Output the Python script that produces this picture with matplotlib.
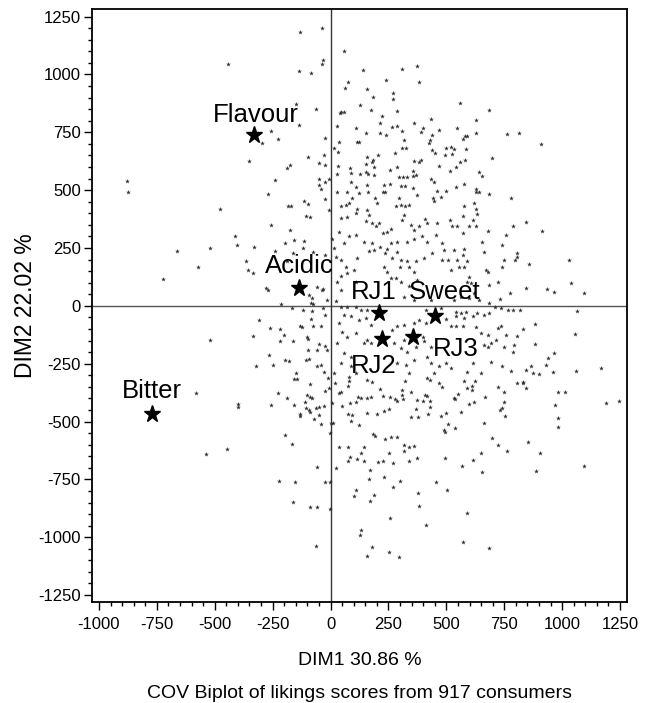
import numpy as np
import matplotlib
matplotlib.use("Agg")
import matplotlib.pyplot as plt
from matplotlib.ticker import MultipleLocator

plt.rcParams['font.family'] = ['Liberation Sans', 'DejaVu Sans']
plt.rcParams['axes.unicode_minus'] = False

# attribute / product positions (stars)
star_names = ['Flavour', 'Acidic', 'RJ1', 'Sweet', 'RJ2', 'RJ3', 'Bitter']
star_x = [-329, -135, 209, 450, 221, 356, -770]
star_y = [737, 79, -32, -42, -143, -135, -467]

# consumer points, (dim1, dim2)
consumers = [
    # upper centre
    (-133, 1184), (-39, 1202), (58, 1101), (-33, 1063), (-39, 1045), (-137, 1015), (-84, 1008), (141, 1019),
    (310, 1024), (375, 1037), (75, 969), (62, 941), (241, 976), (382, 969), (159, 937), (271, 920),
    (268, 894), (185, 903), (-148, 872), (-61, 851), (127, 868), (174, 848), (288, 843), (46, 838),
    (58, 838), (40, 832), (222, 820), (-135, 782), (-257, 756), (-229, 722), (-294, 704), (26, 777),
    (111, 769), (213, 791), (264, 773), (288, 779), (359, 790), (151, 747), (212, 747), (241, 738),
    (308, 756), (389, 751), (-25, 725), (36, 709), (114, 708), (124, 708), (317, 717), (308, 683),
    (327, 683), (13, 683), (33, 667), (278, 660), (-30, 650), (-98, 643), (159, 643), (206, 654),
    (185, 631), (179, 621), (359, 628), (382, 621), (-352, 626), (-49, 617), (-176, 608), (-190, 597),
    (-22, 607), (33, 603), (151, 613), (187, 601), (82, 597), (288, 601), (256, 587), (355, 581),
    (29, 570), (88, 574), (125, 570), (153, 578), (161, 568), (187, 564), (294, 555), (311, 557),
    (332, 557), (356, 560), (371, 567), (-49, 549), (-7, 549), (-238, 544), (-52, 523), (-22, 535),
    (-43, 505), (87, 536), (159, 523), (109, 515), (231, 523), (256, 528), (306, 519), (320, 519),
    (358, 510), (29, 492), (72, 494), (122, 487), (163, 490), (226, 492), (234, 490), (-271, 483),
    (91, 466), (190, 466), (295, 466), (375, 480), (-25, 461), (-7, 415),
    # upper right
    (558, 877), (686, 846), (433, 807), (630, 803), (398, 769), (470, 761), (545, 769), (628, 747),
    (760, 743), (812, 747), (907, 699), (437, 738), (429, 717), (423, 704), (570, 722), (581, 734),
    (587, 734), (440, 673), (453, 660), (500, 682), (519, 686), (533, 678), (494, 652), (523, 656),
    (584, 678), (392, 630), (696, 639), (581, 630), (559, 621), (467, 606), (542, 600), (515, 582),
    (639, 578), (654, 561), (433, 548), (447, 535), (578, 526), (541, 515), (626, 505), (630, 492),
    (640, 492), (685, 483), (458, 496), (497, 496), (444, 466), (476, 470), (777, 466),
    # middle left
    (-115, 454), (-96, 440), (-185, 430), (-169, 432), (-105, 389), (-89, 386), (-258, 349), (-177, 327),
    (-198, 270), (-159, 283), (-115, 281), (-332, 254), (-241, 235), (-161, 228), (-366, 193), (-356, 153),
    (-337, 143), (-277, 79), (-269, 69), (-58, 82), (-39, 69), (-32, 72), (-94, 48), (-79, 33),
    (-86, 12), (-75, 7), (-215, 7), (-166, -10), (-120, -20), (-81, -22), (-32, -10), (-14, 25),
    (-22, -39), (-85, -56), (-310, -62), (-218, -101), (-202, -125), (-262, -94), (-134, -85), (-125, -92),
    (-74, -89), (-43, -85), (-337, -130), (-163, -154), (-101, -135), (-96, -143), (-49, -164), (-23, -173),
    (-16, -190), (-96, -190), (-57, -190), (-265, -211), (-196, -234), (-180, -238), (-107, -234), (-91, -231),
    (-321, -258), (-247, -254), (-58, -258), (-43, -255), (-148, -291), (-29, -284), (-12, -313),
    (-118, 250), (-75, 231), (-22, 220), (-187, 193), (-219, -154),
    # middle centre
    (43, 430), (65, 437), (79, 444), (43, 379), (72, 386), (108, 401), (115, 418), (159, 415),
    (166, 394), (202, 444), (180, 358), (151, 365), (195, 346), (209, 358), (228, 317), (245, 321),
    (263, 332), (281, 430), (303, 437), (320, 430), (339, 437), (317, 394), (310, 372), (346, 350),
    (360, 329), (382, 343), (36, 321), (79, 300), (108, 307), (58, 271), (7, 288), (17, 250),
    (144, 278), (166, 235), (187, 242), (180, 271), (213, 256), (234, 228), (245, 245), (260, 271),
    (288, 278), (329, 275), (360, 288), (288, 232), (267, 207), (303, 199), (332, 192), (368, 192),
    (22, 213), (43, 199), (65, 170), (101, 156), (72, 141), (115, 206), (108, 105), (29, 105),
    (43, 127), (43, 69), (231, 170), (245, 148), (260, 120), (281, 120), (300, 170), (339, 170),
    (360, 148), (303, 105), (339, 84), (375, 112), (317, 40), (360, 26), (22, 19), (43, -3),
    (72, -3), (108, -3), (130, -17), (159, -17), (36, -75), (58, -39), (87, -46), (122, -61),
    (151, -53), (173, -82), (267, -104), (288, -89), (317, -82), (360, -75), (382, -61), (51, -111),
    (72, -133), (108, -118), (144, -161), (173, -161), (159, -147), (274, -161), (303, -183), (332, -198),
    (368, -176), (317, -147), (29, -161), (58, -205), (43, -248), (87, -219), (87, -262), (108, -291),
    (14, -291), (79, -306), (288, -248), (324, -255), (360, -234), (339, -291),
    # middle right
    (447, 454), (577, 432), (620, 444), (627, 418), (631, 397), (574, 389), (407, 375), (418, 358),
    (461, 358), (516, 372), (526, 343), (548, 343), (574, 317), (598, 343), (627, 346), (613, 372),
    (680, 324), (757, 307), (786, 343), (843, 361), (911, 324), (742, 264), (656, 278), (663, 232),
    (397, 300), (418, 278), (454, 307), (483, 271), (490, 242), (534, 242), (570, 221), (577, 245),
    (548, 199), (591, 192), (404, 206), (440, 228), (483, 199), (505, 196), (519, 156), (555, 170),
    (577, 170), (747, 199), (796, 199), (807, 228), (807, 213), (855, 180), (742, 170), (670, 156),
    (678, 148), (721, 105), (685, 91), (598, 124), (591, 105), (606, 98), (620, 55), (1031, 196),
    (1038, 98), (1093, 55), (934, 72), (963, 61), (843, 77), (775, 55), (732, 29), (433, 26),
    (533, 26), (562, 40), (598, 33), (641, 26), (685, 12), (709, -6), (735, -10), (767, -20),
    (786, -17), (817, -17), (1064, -23), (411, -17), (476, -10), (541, -25), (562, -32), (584, -25),
    (613, -46), (634, -32), (663, -39), (685, -32), (541, -46), (577, -53), (411, -75), (497, -58),
    (519, -89), (541, -89), (570, -89), (627, -92), (649, -118), (678, -125), (721, -96), (735, -86),
    (757, -125), (807, -130), (829, -101), (882, -79), (1057, -122), (714, -147), (692, -161), (663, -168),
    (678, -176), (401, -133), (404, -154), (433, -176), (418, -219), (750, -176), (793, -168), (786, -198),
    (882, -164), (937, -226), (963, -205), (468, -262), (519, -270), (497, -248), (433, -248), (616, -248),
    (692, -241), (742, -262), (781, -281), (843, -277), (865, -262), (872, -291), (901, -294), (930, -255),
    (959, -284), (1060, -280), (1168, -270), (591, -284), (649, -291), (447, -291), (418, -313),
    # lower centre
    (-89, -339), (-226, -378), (-190, -399), (-258, -430), (-157, -430), (-101, -385), (-87, -392), (-79, -399),
    (-111, -414), (-108, -442), (-94, -450), (-89, -460), (-61, -442), (-48, -438), (-29, -433), (-134, -468),
    (-130, -476), (-72, -490), (-48, -471), (-40, -512), (-22, -368), (-7, -356), (-198, -559), (-166, -598),
    (-58, -698), (-222, -758), (-153, -763), (-23, -763), (-163, -849), (-87, -868), (-58, -868), (-62, -1039),
    (-3, -551), (-1, -760), (-3, -879), (19, -334), (36, -378), (43, -371), (75, -346), (79, -323),
    (7, -421), (3, -508), (12, -505), (48, -433), (75, -468), (91, -471), (89, -496), (82, -421),
    (112, -414), (120, -392), (130, -399), (156, -399), (173, -395), (159, -320), (180, -327), (213, -360),
    (225, -388), (121, -516), (156, -461), (202, -467), (231, -453), (252, -447), (257, -392), (277, -404),
    (288, -411), (310, -385), (313, -404), (310, -363), (349, -371), (323, -324), (372, -407), (368, -447),
    (346, -482), (379, -482), (185, -555), (193, -561), (237, -574), (261, -568), (285, -568), (319, -602),
    (339, -610), (360, -604), (317, -628), (375, -659), (340, -672), (36, -611), (75, -611), (144, -611),
    (130, -637), (84, -652), (75, -672), (115, -663), (144, -669), (205, -676), (228, -672), (251, -637),
    (268, -681), (25, -702), (170, -709), (164, -750), (231, -741), (300, -758), (271, -784), (112, -796),
    (101, -823), (186, -819), (172, -845), (378, -811), (382, -863), (258, -919), (131, -970), (127, -992),
    (179, -1044), (159, -1083), (254, -1065), (294, -1087),
    # lower right
    (430, -320), (468, -332), (483, -352), (577, -323), (610, -346), (609, -363), (624, -323), (587, -356),
    (724, -352), (747, -373), (807, -334), (829, -327), (831, -334), (843, -356), (980, -373), (1012, -373),
    (407, -385), (415, -388), (401, -411), (430, -411), (430, -438), (421, -468), (476, -476), (500, -464),
    (531, -399), (538, -404), (552, -380), (666, -395), (598, -425), (621, -417), (562, -460), (750, -417),
    (742, -443), (732, -451), (755, -477), (970, -430), (1189, -418), (1247, -412), (983, -486), (982, -525),
    (505, -510), (490, -536), (494, -544), (538, -529), (662, -508), (695, -572), (722, -602), (761, -628),
    (853, -588), (903, -637), (650, -637), (613, -668), (493, -659), (568, -693), (652, -719), (888, -715),
    (1096, -693), (455, -763), (502, -794), (591, -897), (411, -948), (570, -1022), (682, -1048),
    # far left
    (-442, 1045), (-879, 538), (-875, 492), (-476, 418), (-665, 237), (-522, 250), (-411, 300), (-404, 261),
    (-574, 167), (-725, 115), (-519, -147), (-581, -378), (-401, -424), (-401, -438), (-156, -317), (-144, -317),
    (-536, -642), (-447, -620),
]
cons = np.array(consumers, dtype=float)

fig = plt.figure(figsize=(6.53, 7.03), dpi=100)
ax = fig.add_axes([92 / 653, 101 / 703, 535 / 653, 593 / 703])

ax.axhline(0, color='#555555', lw=1.0, zorder=1)
ax.axvline(0, color='#333333', lw=1.0, zorder=1)

ax.scatter(cons[:, 0], cons[:, 1], marker='*', s=13, c='#2e2e2e', linewidths=0, zorder=2)
ax.plot(star_x, star_y, linestyle='none', marker='*', ms=12.5, color='black', zorder=3)

# label offsets in points (dx, dy, ha)
offsets = {
    'Flavour': (1, 9.5, 'center'),
    'Acidic': (0, 10.5, 'center'),
    'RJ1': (-4, 10, 'center'),
    'Sweet': (7, 12, 'center'),
    'RJ2': (-6, -24.5, 'center'),
    'RJ3': (14, -13.5, 'left'),
    'Bitter': (0, 11.5, 'center'),
}
for name, x, y in zip(star_names, star_x, star_y):
    dx, dy, ha = offsets[name]
    ax.annotate(name, (x, y), xytext=(dx, dy), textcoords='offset points',
                ha=ha, va='baseline', fontsize=18.5, zorder=4)

ax.set_xlim(-1030, 1280)
ax.set_ylim(-1280, 1283)
ax.xaxis.set_major_locator(MultipleLocator(250))
ax.yaxis.set_major_locator(MultipleLocator(250))
ax.xaxis.set_minor_locator(MultipleLocator(50))
ax.yaxis.set_minor_locator(MultipleLocator(50))
ax.tick_params(which='major', length=5.5, width=1, direction='out', labelsize=12)
ax.tick_params(axis='x', which='major', pad=5)
ax.tick_params(axis='y', which='major', pad=2.5)
ax.tick_params(which='minor', length=3, width=1, direction='out')
for sp in ax.spines.values():
    sp.set_linewidth(1.3)

ax.set_xlabel('DIM1 30.86 %', fontsize=14, labelpad=15)
ax.set_ylabel('DIM2 22.02 %', fontsize=16.5, labelpad=1)
fig.text(0.5 * (92 + 627) / 653, 5.5 / 703, 'COV Biplot of likings scores from 917 consumers',
         ha='center', va='baseline', fontsize=14)

fig.savefig('out.png', dpi=100)
